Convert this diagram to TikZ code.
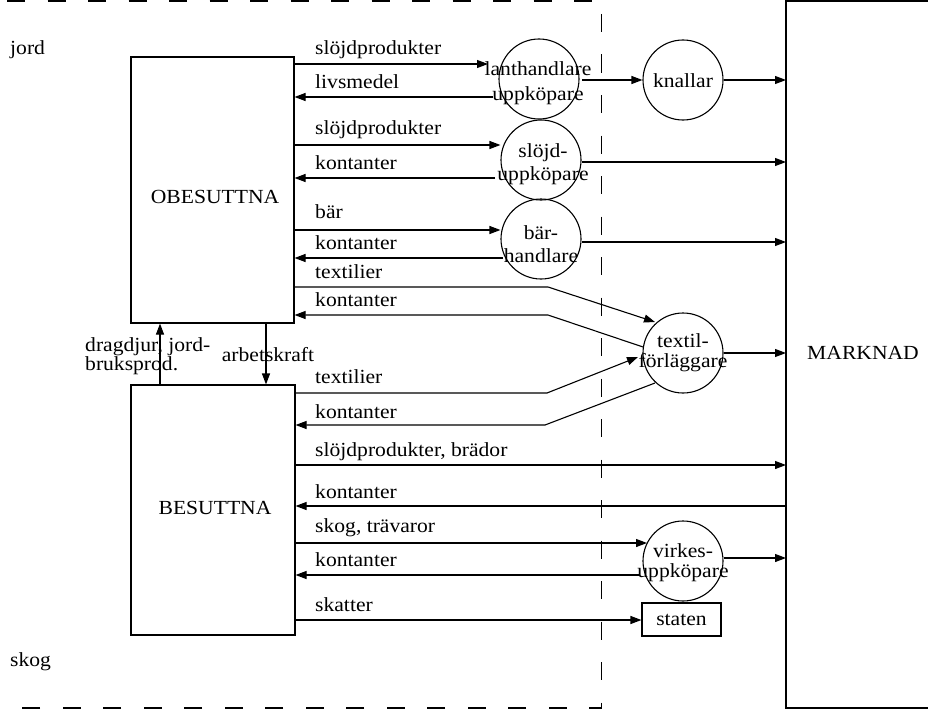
\documentclass[tikz,border=0pt]{standalone}
\usepackage{fontspec}
\setmainfont[FakeStretch=1.08]{Liberation Serif}
\usetikzlibrary{arrows.meta}
\begin{document}
\begin{tikzpicture}[x=1pt,y=-1pt,
  every node/.style={font=\fontsize{20}{24}\selectfont, inner sep=0pt},
  ln/.style={line width=1.1pt},
  arr/.style={ln, -{Triangle[length=11pt,width=8pt]}},
  boxnode/.style={draw, line width=1.1pt, rectangle},
  circnode/.style={draw, line width=1.1pt, circle, minimum size=80pt},
  lbl/.style={anchor=west},
  ctext/.style={align=center}
]
\useasboundingbox (0,0) rectangle (928,709);
% border
\draw[line width=1.6pt, dash pattern=on 18pt off 22.5pt, dash phase=33.5pt]
  (0,1) -- (601.5,1) -- (601.5,708) -- (0,708);
% region labels
\node[lbl] (jord) at (10,50) {jord};
\node[lbl] (skog) at (10,662) {skog};
% boxes
\node[boxnode, minimum width=163pt, minimum height=266pt] (obe) at (212.5,190) {};
\node (obeL) at (215,197) {OBESUTTNA};
\node[boxnode, minimum width=164pt, minimum height=250pt] (bes) at (213,510) {};
\node (besL) at (215,508) {BESUTTNA};
\draw[ln] (940,1) -- (786,1) -- (786,708) -- (940,708);
\coordinate (mk) at (786,353);
\node (mkL) at (863,353) {MARKNAD};
% circles
\node[circnode] (lant) at (539,79) {};
\node[ctext, font=\fontsize{20}{25}\selectfont] (lantT) at (538,83) {lanthandlare\\uppköpare};
\node[circnode] (knal) at (683,80) {};
\node (knalT) at (683,81) {knallar};
\node[circnode] (slojd) at (541,160) {};
\node[ctext, font=\fontsize{20}{23}\selectfont] (slojdT) at (543,164) {slöjd-\\uppköpare};
\node[circnode] (bar) at (541,239) {};
\node[ctext, font=\fontsize{20}{23}\selectfont] (barT) at (541,244) {bär-\\handlare};
\node[circnode] (text) at (683,353) {};
\node[ctext, font=\fontsize{20}{20}\selectfont] (textT) at (683,353) {textil-\\förläggare};
\node[circnode] (virk) at (683,561) {};
\node[ctext, font=\fontsize{20}{20}\selectfont] (virkT) at (683,563) {virkes-\\uppköpare};
\node[boxnode, minimum width=79pt, minimum height=33pt] (staten) at (681.5,619.5) {staten};
% OBESUTTNA flows
\draw[arr] (obe.east |- 0,64) -- (488,64);
\node[lbl] at (315,50) {slöjdprodukter};
\draw[arr] (493,97) -- (obe.east |- 0,97);
\node[lbl] at (315,82) {livsmedel};
\draw[arr] (582,80) -- (knal.west);
\draw[arr] (knal.east) -- (mk |- knal.east);
\draw[arr] (obe.east |- 0,145) -- (slojd.west |- 0,145);
\node[lbl] at (315,130) {slöjdprodukter};
\draw[arr] (495,178) -- (obe.east |- 0,178);
\node[lbl] at (315,163) {kontanter};
\draw[arr] (slojd.east |- 0,162) -- (mk |- 0,162);
\draw[arr] (obe.east |- 0,230) -- (bar.west |- 0,230);
\node[lbl] at (315,212) {bär};
\draw[arr] (503,258) -- (obe.east |- 0,258);
\node[lbl] at (315,243) {kontanter};
\draw[arr] (bar.east |- 0,242) -- (mk |- 0,242);
\draw[arr] (obe.east |- 0,287) -- (548,287) -- (655,322);
\node[lbl] at (315,272) {textilier};
\draw[arr] (643,347) -- (548,315) -- (obe.east |- 0,315);
\node[lbl] at (315,300) {kontanter};
% vertical flows
\draw[arr] (bes.north -| 160,0) -- (obe.south -| 160,0);
\node[align=left, anchor=north west, font=\fontsize{20}{17}\selectfont] (drag) at (85,337) {dragdjur, jord-\\bruksprod.};
\draw[arr] (obe.south -| 266,0) -- (bes.north -| 266,0);
\node (arb) at (268,355) {arbetskraft};
% BESUTTNA flows
\draw[arr] (bes.east |- 0,393) -- (547,393) -- (638,357);
\node[lbl] at (315,377) {textilier};
\draw[arr] (655,383) -- (545,425) -- (bes.east |- 0,425);
\node[lbl] at (315,412) {kontanter};
\draw[arr] (text.east) -- (mk);
\draw[arr] (bes.east |- 0,465) -- (mk |- 0,465);
\node[lbl] at (315,452) {slöjdprodukter, brädor};
\draw[arr] (mk |- 0,506) -- (bes.east |- 0,506);
\node[lbl] at (315,492) {kontanter};
\draw[arr] (bes.east |- 0,543) -- (647,543);
\node[lbl] at (315,528) {skog, trävaror};
\draw[arr] (640,575) -- (bes.east |- 0,575);
\node[lbl] at (315,560) {kontanter};
\draw[arr] (virk.east |- 0,558) -- (mk |- 0,558);
\draw[arr] (bes.east |- 0,620) -- (staten.west |- 0,620);
\node[lbl] at (315,605) {skatter};
\end{tikzpicture}
\end{document}
